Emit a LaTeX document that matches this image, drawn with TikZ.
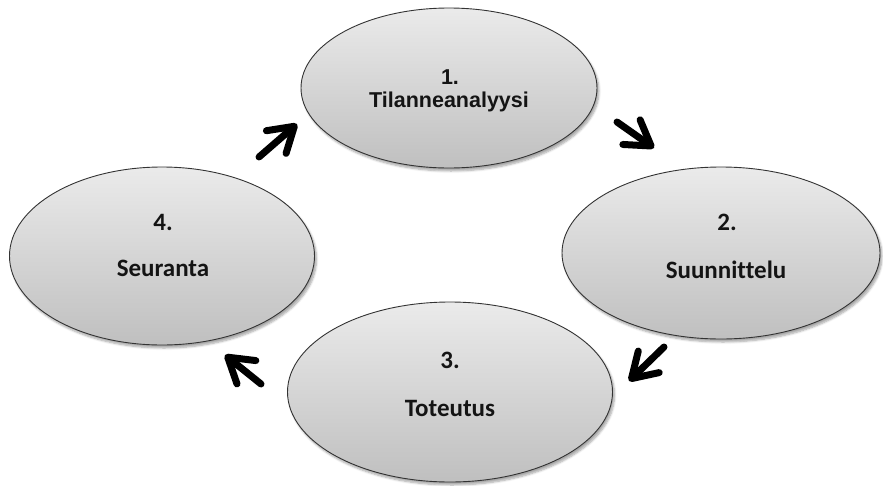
\documentclass[tikz,border=0pt]{standalone}
\usepackage{fontspec}
\setmainfont{Liberation Sans}
\newfontfamily\carlito[Ligatures=NoCommon]{Carlito}
\usetikzlibrary{shapes.geometric,arrows.meta,shadows.blur}
\tikzset{
  ell/.style={ellipse, inner sep=0pt, draw=black!80, line width=0.9pt,
    top color=black!8, bottom color=black!25,
    blur shadow={shadow xshift=2pt, shadow yshift=-3pt, shadow blur steps=6, shadow opacity=35}},
  lblA/.style={font=\fontsize{21.5}{24}\selectfont\bfseries, text=black!92},
  lblB/.style={font=\carlito\fontsize{25}{28}\selectfont\bfseries, text=black!92},
  cyc/.style={line width=7pt, black, line cap=round,
    -{Straight Barb[length=24pt,width=30pt,line cap=round,round]}}
}
\begin{document}
\begin{tikzpicture}[x=1pt,y=-1pt]
\useasboundingbox (0,0) rectangle (883,485);
\node[ell, minimum width=296pt, minimum height=160pt] (n1) at (449,88) {};
\node[ell, minimum width=318pt, minimum height=172pt] (n2) at (721,253) {};
\node[ell, minimum width=325pt, minimum height=180pt] (n3) at (450,392) {};
\node[ell, minimum width=305pt, minimum height=178pt] (n4) at (162,256) {};
\node[lblA] (t1a) at (450,77) {1.};
\node[lblA] (t1b) at (449,102) {Tilanneanalyysi};
\node[lblB] (t2a) at (727,222) {2.};
\node[lblB] (t2b) at (726,270) {Suunnittelu};
\node[lblB] (t3a) at (450,360) {3.};
\node[lblB] (t3b) at (450,408) {Toteutus};
\node[lblB] (t4a) at (163,222) {4.};
\node[lblB] (t4b) at (163,268) {Seuranta};
\coordinate (a1s) at (617,122); \coordinate (a1e) at (654,148);
\coordinate (a2s) at (664,347); \coordinate (a2e) at (629,381);
\coordinate (a3s) at (261,384); \coordinate (a3e) at (225,355);
\coordinate (a4s) at (259,157); \coordinate (a4e) at (297,124);
\draw[cyc] (a1s) -- (a1e);
\draw[cyc] (a2s) -- (a2e);
\draw[cyc] (a3s) -- (a3e);
\draw[cyc] (a4s) -- (a4e);
\end{tikzpicture}
\end{document}
